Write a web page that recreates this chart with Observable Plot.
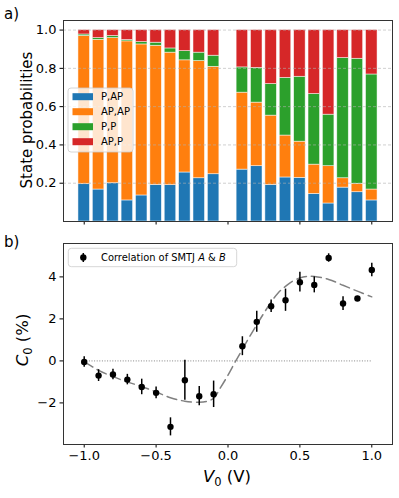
<!DOCTYPE html>
<html><head><meta charset="utf-8">
<script src="https://cdn.jsdelivr.net/npm/d3@7"></script>
<script src="https://cdn.jsdelivr.net/npm/@observablehq/plot@0.6"></script>
<style>
body{margin:0;background:#fff;}
#chart{position:relative;width:399px;height:498px;font-family:"DejaVu Sans",sans-serif;}
#chart svg{display:block;}
</style></head><body><div id="chart"></div>
<script>
// ---- Panel a data: state probabilities per V0 ----
const voltagesA = [-1.0,-0.9,-0.8,-0.7,-0.6,-0.5,-0.4,-0.3,-0.2,-0.1, 0.1,0.2,0.3,0.4,0.5,0.6,0.7,0.8,0.9,1.0];
const states = ["P,AP","AP,AP","P,P","AP,P"];
const colors = ["#1f77b4","#ff7f0e","#2ca02c","#d62728"];
const pP_AP  = [0.195,0.167,0.200,0.110,0.136,0.191,0.190,0.256,0.226,0.247, 0.271,0.289,0.191,0.230,0.228,0.144,0.094,0.177,0.153,0.110];
const pAP_AP = [0.774,0.782,0.758,0.831,0.789,0.727,0.692,0.586,0.612,0.561, 0.402,0.332,0.362,0.219,0.189,0.153,0.195,0.049,0.044,0.057];
const pP_P   = [0.008,0.009,0.011,0.007,0.012,0.016,0.022,0.048,0.044,0.058, 0.132,0.181,0.165,0.301,0.339,0.369,0.269,0.628,0.653,0.601];
const pAP_P  = [0.023,0.042,0.031,0.052,0.063,0.066,0.096,0.110,0.118,0.134, 0.195,0.198,0.282,0.250,0.244,0.334,0.442,0.146,0.150,0.232];
const yTicksA = [0.2,0.4,0.6,0.8,1.0];
const xTicks = [-1.0,-0.5,0.0,0.5,1.0];

// ---- Panel b data: correlation C0 vs V0 ----
const voltagesB = [-1.0,-0.9,-0.8,-0.7,-0.6,-0.5,-0.4,-0.3,-0.2,-0.1, 0.1,0.2,0.3,0.4,0.5,0.6,0.7,0.8,0.9,1.0];
const c0 = [-0.05,-0.70,-0.65,-0.89,-1.24,-1.52,-3.14,-0.92,-1.68,-1.59, 0.70,1.86,2.60,2.89,3.75,3.62,4.90,2.73,2.97,4.33];
const c0Err = [0.25,0.28,0.25,0.25,0.37,0.28,0.43,0.95,0.46,0.63, 0.45,0.50,0.30,0.53,0.47,0.38,0.20,0.33,0.10,0.32];
const modelV = [-1.0,-0.95,-0.9,-0.8,-0.7,-0.6,-0.5,-0.4,-0.3,-0.2,-0.15,-0.1,-0.05,0.0,0.05,0.1,0.15,0.2,0.25,0.3,0.35,0.4,0.45,0.5,0.55,0.6,0.7,0.8,0.9,1.0];
const modelC = [-0.05,-0.25,-0.45,-0.75,-1.0,-1.22,-1.48,-1.75,-1.92,-1.97,-1.93,-1.78,-1.25,-0.68,-0.05,0.55,1.15,1.72,2.28,2.8,3.25,3.55,3.8,3.95,4.02,4.02,3.88,3.6,3.32,3.05];
const yTicksB = [-2,0,2,4];

// ---- build tables ----
const probs = [pP_AP, pAP_AP, pP_P, pAP_P];
const stackRows = [];
voltagesA.forEach((v, i) => {
  let base = 0;
  states.forEach((s, k) => {
    const val = probs[k][i];
    stackRows.push({v, state: s, y1: base, y2: base + val});
    base += val;
  });
});
const pts = voltagesB.map((v, i) => ({v, c: c0[i], lo: c0[i] - c0Err[i], hi: c0[i] + c0Err[i]}));
const model = modelV.map((v, i) => ({v, c: modelC[i]}));

const baseStyle = {fontFamily: "DejaVu Sans, sans-serif", fontSize: "13px", color: "black", background: "white", overflow: "visible"};
const halfW = 0.04;

const plotA = Plot.plot({
  width: 399, height: 232,
  marginLeft: 63, marginRight: 7, marginTop: 20, marginBottom: 11,
  style: baseStyle,
  x: {domain: [-1.144, 1.144], ticks: xTicks, tickFormat: () => "", tickSize: 3.5, label: null},
  y: {domain: [0, 1.05], ticks: yTicksA, tickFormat: d3.format(".1f"), tickSize: 3.5, tickPadding: 3.5, label: null},
  color: {domain: states, range: colors},
  marks: [
    Plot.rect(stackRows, {x1: d => d.v - halfW, x2: d => d.v + halfW, y1: "y1", y2: "y2", fill: "state", stroke: "white", strokeWidth: 0.7, strokeOpacity: 0.7}),
    Plot.gridY(yTicksA, {stroke: "#b0b0b0", strokeOpacity: 0.6, strokeDasharray: "3,2"}),
    Plot.frame({stroke: "#333"})
  ]
});

const plotB = Plot.plot({
  width: 399, height: 266,
  marginLeft: 63, marginRight: 7, marginTop: 11, marginBottom: 54,
  style: baseStyle,
  x: {domain: [-1.144, 1.144], ticks: xTicks, tickFormat: d3.format(".1f"), tickSize: 3.5, tickPadding: 3, label: null},
  y: {domain: [-3.98, 5.59], ticks: yTicksB, tickFormat: d3.format("d"), tickSize: 3.5, tickPadding: 3.5, label: null},
  marks: [
    Plot.ruleY([0], {x1: -1, x2: 1, stroke: "#777", strokeWidth: 0.9, strokeDasharray: "1,1.6"}),
    Plot.line(model, {x: "v", y: "c", stroke: "#808080", strokeWidth: 1.5, strokeDasharray: "10,5", curve: "catmull-rom"}),
    Plot.ruleX(pts, {x: "v", y1: "lo", y2: "hi", stroke: "black", strokeWidth: 1.5}),
    Plot.dot(pts, {x: "v", y: "c", r: 3.2, fill: "black", stroke: "none"}),
    Plot.frame({stroke: "#333"})
  ]
});

const root = document.getElementById("chart");
root.appendChild(plotA);
root.appendChild(plotB);

// ---- annotations / legends ----
const sa = d3.select(plotA);
sa.append("text").attr("x", 4).attr("y", 19).attr("text-anchor", "start").attr("font-size", 15).attr("fill", "black").text("a)");
sa.append("text").attr("transform", "translate(32,120) rotate(-90)").attr("text-anchor", "middle")
  .attr("font-size", 15).attr("fill", "black").text("State probabilities");
const lgA = sa.append("g").attr("text-anchor", "start");
lgA.append("rect").attr("x", 68).attr("y", 88).attr("width", 65).attr("height", 64).attr("rx", 3)
  .attr("fill", "white").attr("fill-opacity", 0.8).attr("stroke", "#ccc").attr("stroke-width", 0.8);
states.forEach((s, k) => {
  const cy = 96.7 + k * 15;
  lgA.append("rect").attr("x", 72.5).attr("y", cy - 3.5).attr("width", 20.5).attr("height", 7).attr("fill", colors[k]);
  lgA.append("text").attr("x", 101).attr("y", cy).attr("dy", "0.35em").attr("text-anchor", "start").attr("font-size", 10).attr("fill", "black").text(s);
});

const sb = d3.select(plotB);
sb.append("text").attr("x", 4).attr("y", 15).attr("text-anchor", "start").attr("font-size", 15).attr("fill", "black").text("b)");
const yl = sb.append("text").attr("transform", "translate(28,108) rotate(-90)").attr("text-anchor", "middle")
  .attr("font-size", 16.5).attr("fill", "black");
yl.append("tspan").attr("font-style", "italic").text("C");
yl.append("tspan").attr("font-size", 11.5).attr("dy", 3.5).text("0");
yl.append("tspan").attr("dy", -3.5).text(" (%)");
const xl = sb.append("text").attr("x", 227).attr("y", 250).attr("text-anchor", "middle")
  .attr("font-size", 16.5).attr("fill", "black");
xl.append("tspan").attr("font-style", "italic").text("V");
xl.append("tspan").attr("font-size", 11.5).attr("dy", 3.5).text("0");
xl.append("tspan").attr("dy", -3.5).text(" (V)");
const lgB = sb.append("g").attr("text-anchor", "start");
lgB.append("rect").attr("x", 68.3).attr("y", 16.3).attr("width", 168.4).attr("height", 18.4).attr("rx", 3)
  .attr("fill", "white").attr("fill-opacity", 0.8).attr("stroke", "#ccc").attr("stroke-width", 0.8);
lgB.append("line").attr("x1", 83.3).attr("x2", 83.3).attr("y1", 21).attr("y2", 30).attr("stroke", "black").attr("stroke-width", 1.5);
lgB.append("circle").attr("cx", 83.3).attr("cy", 25.5).attr("r", 3.2).attr("fill", "black");
const lt = lgB.append("text").attr("x", 101).attr("y", 25.5).attr("dy", "0.35em").attr("text-anchor", "start").attr("font-size", 9.9).attr("fill", "black");
lt.append("tspan").text("Correlation of SMTJ ");
lt.append("tspan").attr("font-style", "italic").text("A");
lt.append("tspan").text(" & ");
lt.append("tspan").attr("font-style", "italic").text("B");
</script></body></html>
